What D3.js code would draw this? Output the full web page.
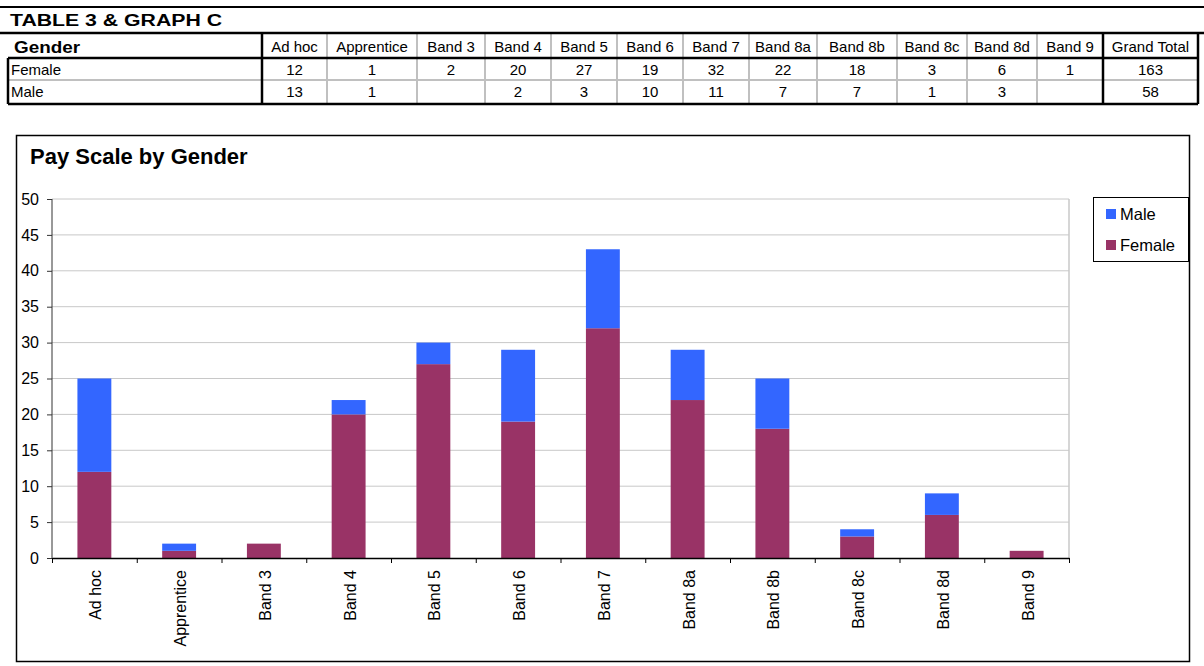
<!DOCTYPE html>
<html>
<head>
<meta charset="utf-8">
<script src="https://cdn.jsdelivr.net/npm/d3@7"></script>
<style>
  body { margin: 0; background: #fff; }
  svg { font-family: "Liberation Sans", Arial, sans-serif; }
</style>
</head>
<body>
<svg id="chart"></svg>
<script>
// data
var bands = ["Ad hoc", "Apprentice", "Band 3", "Band 4", "Band 5", "Band 6", "Band 7", "Band 8a", "Band 8b", "Band 8c", "Band 8d", "Band 9"]
var female = [12, 1, 2, 20, 27, 19, 32, 22, 18, 3, 6, 1]
var male = [13, 1, null, 2, 3, 10, 11, 7, 7, 1, 3, null]
var grandTotal = [163, 58]
var rowNames = ["Female", "Male"]
var yTicks = [0, 5, 10, 15, 20, 25, 30, 35, 40, 45, 50]

var femaleColor = "#993366", maleColor = "#3366FF"

var svg = d3.select("#chart").attr("width", 1204).attr("height", 666)

// ---------- table ----------
svg.append("line").attr("x1", 0).attr("x2", 1204).attr("y1", 7).attr("y2", 7)
    .attr("stroke", "#000").attr("stroke-width", 2)
svg.append("text").attr("x", 10).attr("y", 26)
    .attr("textLength", 212).attr("lengthAdjust", "spacingAndGlyphs")
    .style("font-size", "16px").style("font-weight", "bold")
    .text("TABLE 3 & GRAPH C")

var colEdges = [8, 262, 327, 417, 485, 551, 617, 683, 749, 817, 897, 967, 1037, 1103, 1198]
var rowEdges = [33, 58, 80, 104]

var tbl = svg.append("g")

// header row
tbl.append("text").attr("x", 14).attr("y", 53)
    .attr("textLength", 66).attr("lengthAdjust", "spacingAndGlyphs")
    .style("font-size", "16px").style("font-weight", "bold").text("Gender")
var headers = bands.concat(["Grand Total"])
tbl.selectAll(".hdr").data(headers).enter().append("text")
    .attr("x", function(d, i) { return (colEdges[i + 1] + colEdges[i + 2]) / 2 })
    .attr("y", 52)
    .attr("text-anchor", "middle")
    .style("font-size", "15px")
    .text(function(d) { return d })

// body rows
var rows = [female, male]
rows.forEach(function(vals, r) {
    var yb = rowEdges[r + 1] + 17
    tbl.append("text").attr("x", 11).attr("y", yb).style("font-size", "15px").text(rowNames[r])
    tbl.selectAll(".cell" + r).data(vals.concat([grandTotal[r]])).enter().append("text")
        .attr("x", function(d, i) { return (colEdges[i + 1] + colEdges[i + 2]) / 2 })
        .attr("y", yb)
        .attr("text-anchor", "middle")
        .style("font-size", "15px")
        .text(function(d) { return d == null ? "" : d })
})

// gray inner grid
for (var i = 2; i < colEdges.length - 2; i++) {
    tbl.append("line").attr("x1", colEdges[i]).attr("x2", colEdges[i])
        .attr("y1", rowEdges[0]).attr("y2", rowEdges[3])
        .attr("stroke", "#c0c0c0").attr("stroke-width", 2)
}
tbl.append("line").attr("x1", colEdges[0]).attr("x2", colEdges[14])
    .attr("y1", rowEdges[2]).attr("y2", rowEdges[2])
    .attr("stroke", "#c0c0c0").attr("stroke-width", 2)
// black borders
function blk(x1, y1, x2, y2) {
    tbl.append("line").attr("x1", x1).attr("x2", x2).attr("y1", y1).attr("y2", y2)
        .attr("stroke", "#000").attr("stroke-width", 2.5)
}
blk(0, rowEdges[0], 1204, rowEdges[0])
blk(colEdges[0], rowEdges[1], colEdges[14], rowEdges[1])
blk(colEdges[0], rowEdges[3], colEdges[14], rowEdges[3])
blk(colEdges[0], rowEdges[1], colEdges[0], rowEdges[3])
blk(colEdges[1], rowEdges[0], colEdges[1], rowEdges[3])
blk(colEdges[13], rowEdges[0], colEdges[13], rowEdges[3])
blk(colEdges[14], rowEdges[0], colEdges[14], rowEdges[3])

// ---------- chart ----------
svg.append("rect").attr("x", 16.5).attr("y", 135.5).attr("width", 1173).attr("height", 526)
    .attr("fill", "#fff").attr("stroke", "#000").attr("stroke-width", 1.5)

svg.append("text").attr("x", 30).attr("y", 164)
    .style("font-size", "22px").style("font-weight", "bold")
    .text("Pay Scale by Gender")

var plotLeft = 52, plotRight = 1069, plotTop = 199, plotBottom = 558

var x = d3.scaleBand().domain(bands).range([plotLeft, plotRight]).paddingInner(0.6).paddingOuter(0.3)
var xEdge = d3.scaleLinear().domain([0, bands.length]).range([plotLeft, plotRight])
var y = d3.scaleLinear().domain([0, 50]).range([plotBottom, plotTop])

// gridlines
svg.append("g").selectAll("line").data(yTicks.slice(1)).enter().append("line")
    .attr("x1", plotLeft).attr("x2", plotRight)
    .attr("y1", function(d) { return y(d) }).attr("y2", function(d) { return y(d) })
    .attr("stroke", "#c8c8c8").attr("stroke-width", 1)
svg.append("line").attr("x1", plotRight).attr("x2", plotRight).attr("y1", plotTop).attr("y2", plotBottom)
    .attr("stroke", "#c8c8c8").attr("stroke-width", 1.5)

// bars
var stackData = bands.map(function(b, i) { return { band: b, Female: female[i] || 0, Male: male[i] || 0 } })
var series = d3.stack().keys(["Female", "Male"])(stackData)
var colors = { Female: femaleColor, Male: maleColor }

svg.append("g").selectAll("g").data(series).enter().append("g")
    .attr("fill", function(s) { return colors[s.key] })
    .selectAll("rect").data(function(s) { return s }).enter().append("rect")
    .attr("x", function(d) { return x(d.data.band) })
    .attr("width", x.bandwidth())
    .attr("y", function(d) { return y(d[1]) })
    .attr("height", function(d) { return y(d[0]) - y(d[1]) })

// y axis
var yAxis = svg.append("g").attr("transform", "translate(" + plotLeft + ",0)")
    .call(d3.axisLeft(y).tickValues(yTicks).tickSize(5).tickPadding(8))
yAxis.select(".domain").attr("stroke", "#333").attr("d", "M0," + plotTop + "V" + plotBottom)
yAxis.selectAll(".tick line").attr("stroke", "#333")
yAxis.selectAll("text").style("font-size", "16px").attr("fill", "#000")

// x axis
var xAxis = svg.append("g").attr("transform", "translate(0," + plotBottom + ")")
    .call(d3.axisBottom(xEdge).tickValues(d3.range(bands.length + 1)).tickFormat("").tickSize(5).tickSizeOuter(0))
xAxis.select(".domain").attr("stroke", "#000").attr("stroke-width", 1.5)
xAxis.selectAll(".tick line").attr("stroke", "#000")

svg.append("g").selectAll("text").data(bands).enter().append("text")
    .attr("transform", function(d) { return "translate(" + (x(d) + x.bandwidth() / 2 + 7) + "," + (plotBottom + 12) + ") rotate(-90)" })
    .attr("text-anchor", "end")
    .style("font-size", "16px")
    .text(function(d) { return d })

// legend
var lg = svg.append("g")
lg.append("rect").attr("x", 1093.5).attr("y", 197.5).attr("width", 95).attr("height", 64)
    .attr("fill", "#fff").attr("stroke", "#000").attr("stroke-width", 1)
var legendKeys = ["Male", "Female"]
legendKeys.forEach(function(k, i) {
    lg.append("rect").attr("x", 1106).attr("y", 209 + i * 31).attr("width", 10).attr("height", 10)
        .attr("fill", colors[k])
    lg.append("text").attr("x", 1120).attr("y", 220 + i * 31)
        .style("font-size", "16.5px").text(k)
})
</script>
</body>
</html>
